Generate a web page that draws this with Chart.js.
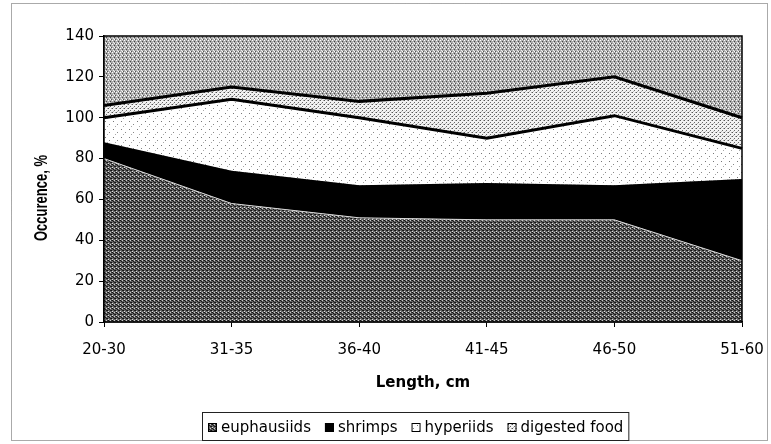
<!DOCTYPE html>
<html>
<head>
<meta charset="utf-8">
<script src="https://cdn.jsdelivr.net/npm/chart.js@4.4.0/dist/chart.umd.min.js"></script>
<style>
  html, body { margin: 0; padding: 0; background: #fff; }
  #wrap { width: 771px; height: 444px; }
</style>
</head>
<body>
<div id="wrap"><canvas id="dietChart" width="771" height="444"></canvas></div>
<script>
// Diet composition by length class, stacked occurrence (%)
const lengthClasses = ['20-30', '31-35', '36-40', '41-45', '46-50', '51-60'];
const euphausiids   = [80, 58, 51, 50, 50, 30];
const shrimps       = [8, 16, 16, 18, 17, 40];
const hyperiids     = [12, 35, 33, 22, 34, 15];
const digestedFood  = [6, 6, 8, 22, 19, 15];
const yTicks = [0, 20, 40, 60, 80, 100, 120, 140];

// small tiled textures, like the old greyscale print fills
function dither(size, base, dots) {
  const c = document.createElement('canvas');
  c.width = c.height = size;
  const g = c.getContext('2d');
  g.fillStyle = base;
  g.fillRect(0, 0, size, size);
  dots.forEach(([x, y, col]) => { g.fillStyle = col; g.fillRect(x, y, 1, 1); });
  return g.createPattern(c, 'repeat');
}

const plotFill = dither(4, '#adadad', [[0, 0, '#fff'], [2, 1, '#444'], [1, 2, '#eee'], [3, 3, '#555'], [2, 3, '#fff']]);
const euphFill = dither(4, '#646464', [[0, 0, '#111'], [2, 0, '#ccc'], [1, 1, '#1a1a1a'], [3, 2, '#111'], [0, 3, '#ddd'], [2, 2, '#222'], [3, 0, '#333']]);
const digFill  = dither(4, '#f2f2f2', [[0, 0, '#555'], [2, 2, '#666'], [3, 0, '#aaa'], [1, 3, '#bbb']]);
const hypFill  = dither(8, '#ffffff', [[1, 1, '#777'], [5, 4, '#888'], [3, 6, '#aaa']]);

const tickFont = { family: 'DejaVu Sans', size: 15 };

const framePlugin = {
  id: 'frame',
  beforeDatasetsDraw(chart) {
    const { ctx, chartArea: a } = chart;
    ctx.save();
    ctx.fillStyle = plotFill;
    ctx.fillRect(a.left, a.top, a.right - a.left, a.bottom - a.top);
    ctx.restore();
  },
  afterDatasetsDraw(chart) {
    const { ctx, chartArea: a } = chart;
    ctx.save();
    ctx.strokeStyle = '#000';
    ctx.lineWidth = 1.5;
    ctx.strokeRect(a.left, a.top, a.right - a.left, a.bottom - a.top);
    ctx.restore();
  },
  afterDraw(chart) {
    const { ctx } = chart;
    ctx.save();

    // dotted outer border
    ctx.strokeStyle = '#555';
    ctx.lineWidth = 1;
    ctx.setLineDash([1, 1]);
    ctx.strokeRect(11.5, 3.5, 756, 437);
    ctx.setLineDash([]);

    // y axis title, widened glyphs
    ctx.translate(42, 198);
    ctx.rotate(-Math.PI / 2);
    ctx.scale(1, 1.4);
    ctx.fillStyle = '#000';
    ctx.font = 'bold 13px "Liberation Sans"';
    ctx.textAlign = 'center';
    ctx.textBaseline = 'middle';
    ctx.fillText('Occurence, %', 0, 0);
    ctx.setTransform(1, 0, 0, 1, 0, 0);

    // legend
    const sets = chart.data.datasets;
    ctx.font = '15px "DejaVu Sans"';
    const box = 9, gap = 4, spacing = 14;
    const widths = sets.map(d => ctx.measureText(d.label).width);
    const total = widths.reduce((s, w) => s + box + gap + w, 0) + spacing * (sets.length - 1);
    const cy = 427;
    let x = Math.round(416 - total / 2);
    ctx.strokeStyle = '#222';
    ctx.strokeRect(x - 5.5, 412.5, total + 11, 28);
    ctx.textAlign = 'left';
    ctx.textBaseline = 'middle';
    sets.forEach((d, i) => {
      ctx.fillStyle = d.backgroundColor;
      ctx.fillRect(x, cy - 4, box, box);
      ctx.strokeStyle = '#000';
      ctx.strokeRect(x + 0.5, cy - 3.5, box - 1, box - 1);
      ctx.fillStyle = '#000';
      ctx.fillText(d.label, x + box + gap, cy + 1);
      x += box + gap + widths[i] + spacing;
    });
    ctx.restore();
  }
};

new Chart(document.getElementById('dietChart'), {
  type: 'line',
  data: {
    labels: lengthClasses,
    datasets: [
      { label: 'euphausiids', data: euphausiids, backgroundColor: euphFill, fill: 'origin',
        borderColor: '#d8d8d8', borderWidth: 1 },
      { label: 'shrimps', data: shrimps, backgroundColor: '#000', fill: '-1',
        borderColor: 'rgba(0,0,0,0)', borderWidth: 1 },
      { label: 'hyperiids', data: hyperiids, backgroundColor: hypFill, fill: '-1',
        borderColor: '#000', borderWidth: 3 },
      { label: 'digested food', data: digestedFood, backgroundColor: digFill, fill: '-1',
        borderColor: '#000', borderWidth: 3 }
    ]
  },
  options: {
    responsive: false,
    animation: false,
    events: [],
    layout: { padding: { left: 10, top: 36, right: 29, bottom: 52 } },
    elements: { point: { radius: 0 }, line: { tension: 0 } },
    plugins: { legend: { display: false }, tooltip: { enabled: false } },
    scales: {
      x: {
        offset: false,
        grid: { drawOnChartArea: false, tickLength: 5, tickColor: '#000' },
        border: { color: '#000', width: 1.5 },
        ticks: { color: '#000', font: tickFont, padding: 14, maxRotation: 0, autoSkip: false },
        title: { display: true, text: 'Length, cm', color: '#000', padding: 0,
                 font: { family: 'DejaVu Sans', size: 15, weight: 'bold' } },
        afterFit(s) {
          s.height = 70;
          // end labels may hang into the side margins
          s.paddingLeft = 0;
          s.paddingRight = 0;
        }
      },
      y: {
        stacked: true,
        min: 0,
        max: 140,
        grid: { drawOnChartArea: false, tickLength: 5, tickColor: '#000' },
        border: { color: '#000', width: 1.5 },
        ticks: { color: '#000', font: tickFont, padding: 5 },
        afterBuildTicks(s) { s.ticks = yTicks.map(v => ({ value: v })); },
        afterFit(s) { s.width = 94; }
      }
    }
  },
  plugins: [framePlugin]
});
</script>
</body>
</html>
